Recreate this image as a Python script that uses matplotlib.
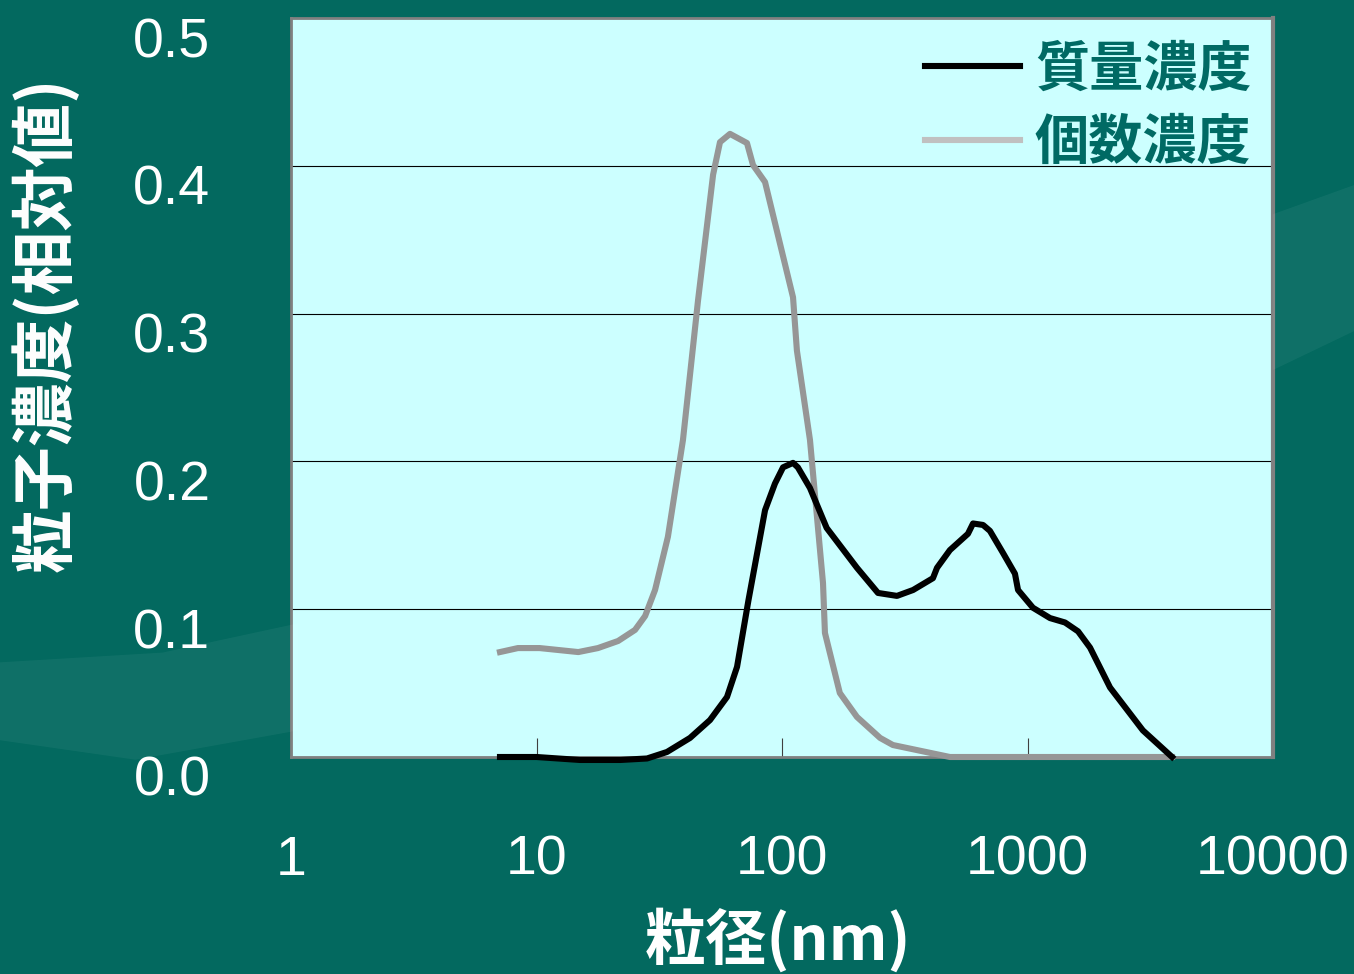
import matplotlib
matplotlib.use("Agg")
import matplotlib.pyplot as plt
from matplotlib.lines import Line2D
from matplotlib.patches import Polygon
from matplotlib.transforms import ScaledTranslation

# particle size (nm) and relative concentration
mass_size = [7.1, 10, 15, 22, 28.2, 34, 42.2, 50.9, 59.7, 65.6, 73, 85.3, 93.6, 101,
             110.9, 116, 130, 152, 202, 246, 294, 342, 412, 428, 483, 572, 600, 659,
             703, 795, 889, 915, 1052, 1235, 1422, 1607, 1798, 2169, 2951, 3880]
mass_conc = [0.0, 0.0, -0.002, -0.002, -0.001, 0.0034, 0.0129, 0.025, 0.0406, 0.061,
             0.106, 0.167, 0.185, 0.196, 0.199, 0.196, 0.182, 0.155, 0.128, 0.111,
             0.109, 0.113, 0.121, 0.128, 0.140, 0.151, 0.158, 0.157, 0.153, 0.138,
             0.124, 0.113, 0.101, 0.094, 0.091, 0.085, 0.074, 0.047, 0.018, 0.0]

count_size = [7.1, 8.4, 10.3, 14.8, 17.8, 21.5, 25.2, 27.7, 30.4, 34.3, 39.5, 45.5,
              52.4, 55.9, 61.4, 72, 76.2, 85.3, 110.9, 115, 130, 146.9, 149.6, 172,
              202, 251, 283, 483, 3880]
count_conc = [0.071, 0.0737, 0.0737, 0.071, 0.0737, 0.0785, 0.086, 0.0954, 0.113,
              0.149, 0.2145, 0.309, 0.394, 0.416, 0.4216, 0.4154, 0.4005, 0.389,
              0.311, 0.275, 0.2145, 0.1177, 0.0839, 0.0433, 0.0271, 0.0129, 0.0081,
              0.0, 0.0]

series_names = ["質量濃度", "個数濃度"]
x_ticks = [1, 10, 100, 1000, 10000]
x_tick_labels = ["1", "10", "100", "1000", "10000"]
y_ticks = [0.0, 0.1, 0.2, 0.3, 0.4, 0.5]
y_tick_labels = ["0.0", "0.1", "0.2", "0.3", "0.4", "0.5"]

BG = "#03695f"
PLOT_BG = "#ccffff"
TEAL_TEXT = "#006a64"
CJK = ["Noto Sans CJK JP", "DejaVu Sans"]
LW = 4.4

fig = plt.figure(figsize=(13.54, 9.74), dpi=100, facecolor=BG)

# faint lighter sweeps in the backdrop
fig.patches.append(Polygon([(0, 0.32), (0.12, 0.33), (0.22, 0.36), (0.22, 0.25),
                            (0.10, 0.22), (0, 0.24)], closed=True,
                           transform=fig.transFigure, facecolor="white", alpha=0.05,
                           edgecolor="none", zorder=0))
fig.patches.append(Polygon([(0.94, 0.78), (1.0, 0.81), (1.0, 0.66), (0.94, 0.62)],
                           closed=True, transform=fig.transFigure, facecolor="white",
                           alpha=0.05, edgecolor="none", zorder=0))

ax = fig.add_axes([291 / 1354, 217 / 974, 982 / 1354, 739 / 974])
ax.set_facecolor(PLOT_BG)

ax.plot(count_size, count_conc, color="#969696", lw=LW, solid_joinstyle="round",
        clip_on=False, zorder=3)
ax.plot(mass_size, mass_conc, color="black", lw=LW, solid_joinstyle="round",
        clip_on=False, zorder=4)

ax.set_xscale("log")
ax.set_xlim(1, 10000)
ax.set_ylim(0, 0.5)

ax.set_xticks(x_ticks)
ax.set_xticklabels(x_tick_labels)
ax.xaxis.set_minor_locator(matplotlib.ticker.NullLocator())
ax.set_yticks(y_ticks)
ax.set_yticklabels(y_tick_labels)

ax.tick_params(axis="x", direction="in", length=14, width=0.8, color="#404040",
               pad=56, labelsize=40, labelcolor="white")
ax.tick_params(axis="y", length=0, pad=58, labelsize=40, labelcolor="white")
for lab in ax.get_xticklabels() + ax.get_yticklabels():
    lab.set_family("Liberation Sans")
for lab in ax.get_yticklabels():
    lab.set_transform(lab.get_transform() +
                      ScaledTranslation(0, -19 / 100, fig.dpi_scale_trans))

ax.yaxis.grid(True, color="black", lw=0.8)
ax.set_axisbelow(True)
for side in ax.spines.values():
    side.set_color("#808080")
    side.set_linewidth(2)
ax.spines["right"].set_linewidth(3)

fig.text(0.034, 0.667, "粒子濃度(相対値)", rotation=90, ha="center", va="center",
         fontsize=46, fontweight="bold", color="white", family=CJK)
fig.text(0.575, 0.035, "粒径(nm)", ha="center", va="center",
         fontsize=44, fontweight="bold", color="white", family=CJK)

handles = [Line2D([], [], color="black", lw=LW),
           Line2D([], [], color="#c0c0c0", lw=LW)]
ax.legend(handles, series_names, loc="upper right", bbox_to_anchor=(0.978, 0.967),
          frameon=False, borderaxespad=0, borderpad=0, handlelength=1.75,
          handletextpad=0.28, labelspacing=0.35,
          prop={"family": CJK, "weight": "bold", "size": 39},
          labelcolor=TEAL_TEXT)

fig.savefig("out.png", dpi=100, facecolor=BG)
